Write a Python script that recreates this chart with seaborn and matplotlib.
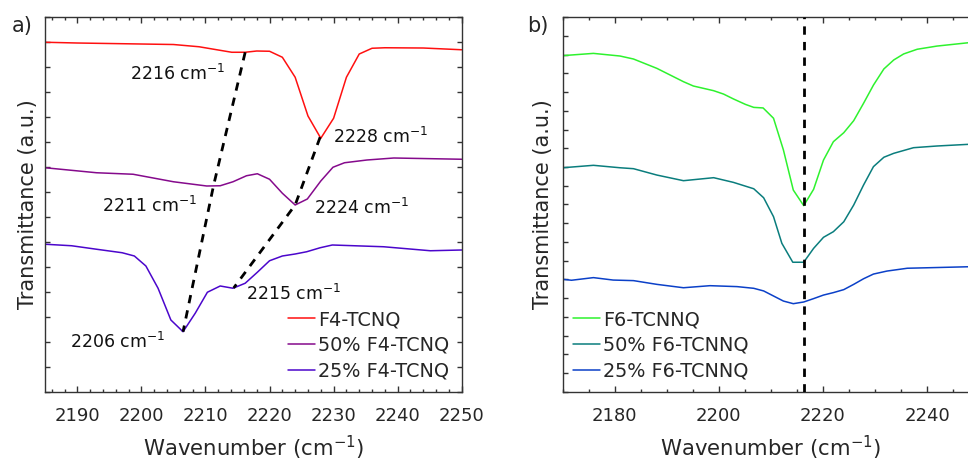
import numpy as np
import pandas as pd
import matplotlib
matplotlib.use("Agg")
import matplotlib.pyplot as plt
import seaborn as sns
from matplotlib.ticker import MultipleLocator

# ---- panel a: F4-TCNQ series (x in cm^-1, transmittance in a.u.) ----
F4_X = [2185, 2190, 2200, 2205, 2209, 2212, 2214.1, 2216.2, 2218, 2220, 2222, 2224,
        2226, 2228, 2230, 2232, 2234, 2236, 2238, 2244, 2250]
F4_Y = [13.99, 13.96, 13.92, 13.9, 13.81, 13.68, 13.59, 13.59, 13.64, 13.63, 13.39, 12.59,
        11.04, 10.15, 10.95, 12.59, 13.52, 13.75, 13.77, 13.76, 13.69]

F4_50_X = [2185, 2193, 2198.7, 2205, 2210.2, 2212.3, 2214.3, 2216.4, 2218.1, 2220, 2222,
           2224, 2225.9, 2228, 2229.9, 2231.7, 2235.2, 2239.4, 2250]
F4_50_Y = [8.97, 8.77, 8.71, 8.41, 8.24, 8.25, 8.41, 8.65, 8.73, 8.51, 7.95,
           7.48, 7.72, 8.44, 8.99, 9.17, 9.28, 9.36, 9.31]

F4_25_X = [2185, 2189.1, 2193, 2197, 2198.9, 2200.7, 2202.6, 2204.6, 2206.5, 2208.4, 2210.3,
           2212.3, 2214.3, 2216.2, 2218.1, 2220, 2222, 2224, 2225.8, 2227.9, 2229.8,
           2237.8, 2245.1, 2250]
F4_25_Y = [5.91, 5.85, 5.71, 5.57, 5.44, 5.04, 4.15, 2.88, 2.41, 3.15, 3.99,
           4.24, 4.15, 4.35, 4.79, 5.25, 5.44, 5.52, 5.61, 5.77, 5.88,
           5.81, 5.65, 5.68]

F4_LABELS = ["F4-TCNQ", "50% F4-TCNQ", "25% F4-TCNQ"]
F4_COLORS = ["#ff1010", "#850a8c", "#4b06cc"]

# peak positions joined by the dashed guides (one per series, top to bottom)
SHIFT1_X = [2216.2, 2211.25, 2206.5]
SHIFT2_X = [2227.9, 2224.0, 2214.4]

# peak annotations: text, x, y, alignment
ANN_TEXT = ["2216", "2228", "2211", "2224", "2215", "2206"]
ANN_X = [2213.1, 2229.9, 2208.7, 2227.0, 2216.4, 2203.7]
ANN_Y = [12.72, 10.21, 7.45, 7.36, 3.92, 2.01]
ANN_HA = ["right", "left", "right", "left", "left", "right"]

# ---- panel b: F6-TCNNQ series ----
F6_X = [2170, 2175.9, 2181, 2183.6, 2188.1, 2193.2, 2195.1, 2199, 2200.9, 2202.8, 2205.1,
        2206.7, 2208.5, 2210.5, 2212.4, 2214.3, 2216.3, 2218.2, 2220.1, 2222, 2224,
        2225.9, 2227.8, 2229.7, 2231.7, 2233.6, 2235.5, 2238.1, 2241.9, 2248, 2250]
F6_Y = [17.94, 18.06, 17.92, 17.76, 17.26, 16.55, 16.32, 16.07, 15.89, 15.63, 15.34,
        15.18, 15.15, 14.6, 12.91, 10.77, 9.94, 10.81, 12.37, 13.35, 13.83,
        14.47, 15.4, 16.37, 17.23, 17.71, 18.03, 18.28, 18.45, 18.63, 18.66]

F6_50_X = [2170, 2175.9, 2181, 2183.6, 2188.1, 2193.2, 2199, 2202.8, 2206.7, 2208.6, 2210.5,
           2212.1, 2214.2, 2216.3, 2218.2, 2220.1, 2222, 2224, 2225.9, 2227.8, 2229.7,
           2231.7, 2233.6, 2237.4, 2241.9, 2248, 2250]
F6_50_Y = [11.96, 12.09, 11.96, 11.91, 11.57, 11.27, 11.43, 11.18, 10.84, 10.36, 9.35,
           7.93, 6.92, 6.92, 7.66, 8.25, 8.55, 9.08, 9.97, 11.04, 12.02,
           12.52, 12.73, 13.03, 13.12, 13.21, 13.23]

F6_25_X = [2170, 2171.7, 2175.9, 2179.7, 2183.6, 2188.1, 2193.2, 2198.3, 2203.5, 2206.7,
           2208.6, 2210.5, 2212.4, 2214.3, 2216.3, 2218.2, 2220.1, 2222, 2224, 2225.9,
           2227.8, 2229.7, 2232.3, 2236.2, 2240.7, 2248, 2250]
F6_25_Y = [6.01, 5.96, 6.1, 5.97, 5.94, 5.74, 5.56, 5.67, 5.62, 5.53,
           5.39, 5.12, 4.85, 4.71, 4.8, 4.98, 5.17, 5.3, 5.46, 5.74,
           6.04, 6.29, 6.45, 6.6, 6.63, 6.68, 6.69]

F6_LABELS = ["F6-TCNNQ", "50% F6-TCNNQ", "25% F6-TCNNQ"]
F6_COLORS = ["#2ef22e", "#0a7d7d", "#0b40c8"]
F6_PEAK = 2216.3

sns.set_theme(style="ticks")
plt.rcParams["font.family"] = ["DejaVu Sans"]
plt.rcParams["mathtext.fontset"] = "dejavusans"


def long_frame(xs, ys, labels):
    parts = [pd.DataFrame({"x": x, "y": y, "sample": lab}) for x, y, lab in zip(xs, ys, labels)]
    return pd.concat(parts, ignore_index=True)


def style_axes(ax, xlim, ylim, major, minor):
    ax.set_xlim(*xlim)
    ax.set_ylim(*ylim)
    ax.xaxis.set_major_locator(MultipleLocator(major))
    ax.xaxis.set_minor_locator(MultipleLocator(minor))
    ax.yaxis.set_major_locator(MultipleLocator(1))
    ax.tick_params(axis="both", which="both", direction="in", top=True, right=True,
                   color="#333333", width=1.0)
    ax.tick_params(axis="x", which="major", length=4.5, labelsize=13, pad=11)
    ax.tick_params(axis="x", which="minor", length=2.5)
    ax.tick_params(axis="y", which="major", length=3.5, labelleft=False)
    for sp in ax.spines.values():
        sp.set_color("#333333")
        sp.set_linewidth(1.0)
    ax.set_xlabel("Wavenumber (cm$^{-1}$)", fontsize=15.3, va="center")
    ax.set_ylabel("Transmittance (a.u.)", fontsize=15, va="center")
    ax.xaxis.set_label_coords(0.5, -0.148)


def add_legend(ax, x0):
    ax.legend(loc="upper left", bbox_to_anchor=(x0, 0.218), frameon=False, fontsize=13.9,
              handlelength=1.4, handletextpad=0.15, labelspacing=0.34, borderpad=0,
              borderaxespad=0)


fig = plt.figure(figsize=(9.68, 4.61), dpi=100)
ax_a = fig.add_axes([0.0468, 0.1497, 0.4302, 0.8134])
ax_b = fig.add_axes([0.5813, 0.1497, 0.4302, 0.8134])

# panel a
df_a = long_frame([F4_X, F4_50_X, F4_25_X], [F4_Y, F4_50_Y, F4_25_Y], F4_LABELS)
sns.lineplot(data=df_a, x="x", y="y", hue="sample", palette=F4_COLORS, hue_order=F4_LABELS,
             sort=False, estimator=None, linewidth=1.1, ax=ax_a)

series_a = [(F4_X, F4_Y), (F4_50_X, F4_50_Y), (F4_25_X, F4_25_Y)]
for guide in (SHIFT1_X, SHIFT2_X):
    gy = [np.interp(gx, sx, sy) for gx, (sx, sy) in zip(guide, series_a)]
    ax_a.plot(guide, gy, color="black", linestyle=(0, (3, 2.6)), linewidth=2.0, zorder=3)

for txt, tx, ty, ha in zip(ANN_TEXT, ANN_X, ANN_Y, ANN_HA):
    ax_a.text(tx, ty, f"{txt} cm$^{{-1}}$", ha=ha, va="center", fontsize=12.5, color="#111111")

style_axes(ax_a, (2185, 2250), (0, 15), 10, 2)
ax_a.yaxis.set_label_coords(-0.041, 0.5)
add_legend(ax_a, 0.583)

# panel b
df_b = long_frame([F6_X, F6_50_X, F6_25_X], [F6_Y, F6_50_Y, F6_25_Y], F6_LABELS)
sns.lineplot(data=df_b, x="x", y="y", hue="sample", palette=F6_COLORS, hue_order=F6_LABELS,
             sort=False, estimator=None, linewidth=1.1, ax=ax_b)
ax_b.axvline(F6_PEAK, color="black", linestyle=(0, (3, 2.6)), linewidth=2.0, zorder=3)

style_axes(ax_b, (2170, 2250), (0, 20), 20, 5)
ax_b.yaxis.set_label_coords(-0.0485, 0.5)
add_legend(ax_b, 0.0255)

fig.text(0.023, 0.944, "a)", fontsize=15, ha="center", va="center")
fig.text(0.556, 0.944, "b)", fontsize=15, ha="center", va="center")

fig.savefig("out.png", dpi=100)
